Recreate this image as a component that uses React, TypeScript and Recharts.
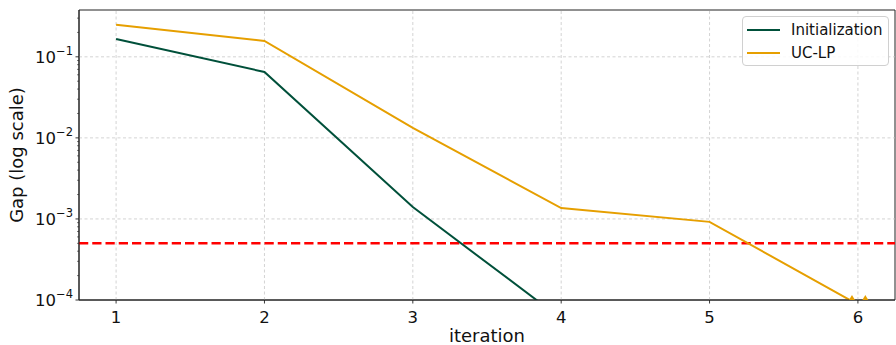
import React from "react";
import {
  LineChart,
  Line,
  XAxis,
  YAxis,
  ReferenceLine,
  ReferenceArea,
  Scatter,
  Label,
} from "recharts";

// data
const iterations = [1, 2, 3, 4, 5, 6];
const initGap = [0.166, 0.065, 0.0014, 0.000059, null, null];
const uclpGap = [0.248, 0.157, 0.0133, 0.00136, 0.00092, 0.000088];
const threshold = 5e-4;
const clippedX = [5.96, 6.05];
const clippedY = [1e-4, 1e-4];

const xTicks = [1, 2, 3, 4, 5, 6];
const yMajor = [1e-4, 1e-3, 1e-2, 1e-1];
const yMinor = [2, 3, 4, 5, 6, 7, 8, 9].flatMap((m) => [m * 1e-4, m * 1e-3, m * 1e-2, m * 1e-1]).filter((v) => v < 0.378);
const xDomain = [0.75, 6.25];
const yDomain = [1e-4, 0.378];

const GREEN = "#00503a";
const ORANGE = "#e69f00";
const FONT = "DejaVu Sans, sans-serif";

const data = iterations.map((it, i) => ({ it, init: initGap[i], uclp: uclpGap[i] }));
const clipped = clippedX.map((x, i) => ({ it: x, y: clippedY[i] }));

const series = [
  { key: "init", name: "Initialization", color: GREEN },
  { key: "uclp", name: "UC-LP", color: ORANGE },
];

const YTick = ({ x, y, payload }: any) => {
  const v = payload.value;
  const lg = Math.log10(v);
  const exp = Math.round(lg);
  const major = Math.abs(lg - exp) < 1e-6;
  return (
    <g>
      <line x1={x} x2={x - (major ? 3.5 : 2)} y1={y} y2={y} stroke="#222" strokeWidth={major ? 0.9 : 0.6} />
      {major && (
        <text x={x - 6} y={y + 6} textAnchor="end" fontFamily={FONT} fontSize={16.5} fill="#111">
          10
          <tspan dy={-8} fontSize={11.5}>{"\u2212" + -exp}</tspan>
        </text>
      )}
    </g>
  );
};

const XTick = ({ x, y, payload }: any) => (
  <g>
    <line x1={x} x2={x} y1={y} y2={y + 3.5} stroke="#222" strokeWidth={0.9} />
    <text x={x} y={y + 23} textAnchor="middle" fontFamily={FONT} fontSize={16.5} fill="#111">
      {payload.value}
    </text>
  </g>
);

const Tri = ({ cx, cy }: any) => (
  <polygon points={`${cx - 3},${cy} ${cx + 3},${cy} ${cx},${cy - 5}`} fill={ORANGE} />
);

export default function App() {
  return (
    <div style={{ position: "absolute", left: 0, top: 0, width: 896, height: 345, background: "#fff" }}>
      <LineChart width={896} height={345} data={data} margin={{ top: 10, right: 1, left: 19, bottom: 0 }}>
        {xTicks.map((t) => (
          <ReferenceLine key={"gx" + t} x={t} stroke="#c8c8c8" strokeWidth={0.8} strokeDasharray="3 2.5" />
        ))}
        {yMajor.slice(1).map((t) => (
          <ReferenceLine key={"gy" + t} y={t} stroke="#c8c8c8" strokeWidth={0.8} strokeDasharray="3 2.5" />
        ))}
        <XAxis
          dataKey="it"
          type="number"
          domain={xDomain}
          ticks={xTicks}
          allowDataOverflow
          height={45}
          tickSize={0}
          tickMargin={0}
          tickLine={false}
          axisLine={{ stroke: "#222", strokeWidth: 1 }}
          tick={<XTick />}
          interval={0}
        >
          <Label
            content={() => (
              <text x={487} y={342} textAnchor="middle" fontFamily={FONT} fontSize={18} fill="#111">
                iteration
              </text>
            )}
          />
        </XAxis>
        <YAxis
          type="number"
          scale="log"
          domain={yDomain}
          ticks={[...yMajor, ...yMinor]}
          allowDataOverflow
          width={60}
          tickSize={0}
          tickMargin={0}
          tickLine={false}
          axisLine={{ stroke: "#222", strokeWidth: 1 }}
          tick={<YTick />}
          interval={0}
        >
          <Label
            content={() => (
              <text transform="translate(23,155) rotate(-90)" textAnchor="middle" fontFamily={FONT} fontSize={18} fill="#111">
                Gap (log scale)
              </text>
            )}
          />
        </YAxis>
        <ReferenceArea x1={xDomain[0]} x2={xDomain[1]} y1={yDomain[0]} y2={yDomain[1]} fill="none" stroke="#222" strokeWidth={1} />
        <ReferenceLine y={threshold} stroke="#ff0000" strokeWidth={2.5} strokeDasharray="9.25 4" />
        {series.map((s) => (
          <Line
            key={s.key}
            dataKey={s.key}
            type="linear"
            stroke={s.color}
            strokeWidth={2}
            dot={false}
            isAnimationActive={false}
            connectNulls={false}
          />
        ))}
        <Scatter data={clipped} dataKey="y" shape={<Tri />} isAnimationActive={false} />
      </LineChart>
      <div
        style={{
          position: "absolute",
          left: 742,
          top: 16,
          width: 147,
          height: 50,
          boxSizing: "border-box",
          border: "1px solid #d0d0d0",
          borderRadius: 4,
          background: "rgba(255,255,255,0.85)",
          fontFamily: FONT,
          fontSize: 15,
          color: "#111",
        }}
      >
        {series.map((s, i) => (
          <div key={s.key} style={{ position: "absolute", left: 4, top: 4 + i * 23, height: 18, display: "flex", alignItems: "center" }}>
            <div style={{ width: 33, height: 2.5, background: s.color, marginRight: 11 }} />
            <span>{s.name}</span>
          </div>
        ))}
      </div>
    </div>
  );
}
